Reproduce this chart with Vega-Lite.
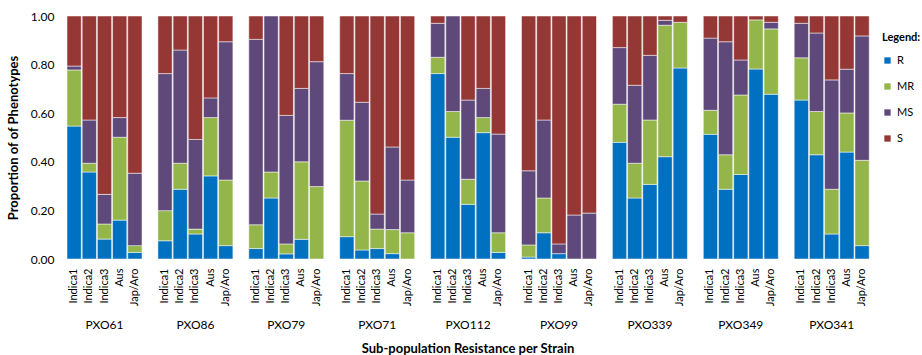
{
  "$schema": "https://vega.github.io/schema/vega-lite/v6.json",
  "padding": {"left": 7, "top": 10, "right": 40, "bottom": 0},
  "background": "white",
  "data": {"values": [
    {"strain": "PXO61", "sub": "Indica1", "R": 0.547, "MR": 0.231, "MS": 0.016, "S": 0.206},
    {"strain": "PXO61", "sub": "Indica2", "R": 0.358, "MR": 0.036, "MS": 0.178, "S": 0.428},
    {"strain": "PXO61", "sub": "Indica3", "R": 0.082, "MR": 0.062, "MS": 0.122, "S": 0.734},
    {"strain": "PXO61", "sub": "Aus", "R": 0.160, "MR": 0.341, "MS": 0.081, "S": 0.418},
    {"strain": "PXO61", "sub": "Jap/Aro", "R": 0.027, "MR": 0.028, "MS": 0.298, "S": 0.647},
    {"strain": "PXO86", "sub": "Indica1", "R": 0.075, "MR": 0.124, "MS": 0.564, "S": 0.237},
    {"strain": "PXO86", "sub": "Indica2", "R": 0.287, "MR": 0.107, "MS": 0.466, "S": 0.140},
    {"strain": "PXO86", "sub": "Indica3", "R": 0.103, "MR": 0.020, "MS": 0.369, "S": 0.508},
    {"strain": "PXO86", "sub": "Aus", "R": 0.342, "MR": 0.240, "MS": 0.081, "S": 0.337},
    {"strain": "PXO86", "sub": "Jap/Aro", "R": 0.055, "MR": 0.270, "MS": 0.569, "S": 0.106},
    {"strain": "PXO79", "sub": "Indica1", "R": 0.043, "MR": 0.098, "MS": 0.763, "S": 0.096},
    {"strain": "PXO79", "sub": "Indica2", "R": 0.251, "MR": 0.107, "MS": 0.642, "S": 0},
    {"strain": "PXO79", "sub": "Indica3", "R": 0.021, "MR": 0.041, "MS": 0.529, "S": 0.409},
    {"strain": "PXO79", "sub": "Aus", "R": 0.081, "MR": 0.319, "MS": 0.302, "S": 0.298},
    {"strain": "PXO79", "sub": "Jap/Aro", "R": 0, "MR": 0.298, "MS": 0.514, "S": 0.188},
    {"strain": "PXO71", "sub": "Indica1", "R": 0.092, "MR": 0.479, "MS": 0.192, "S": 0.237},
    {"strain": "PXO71", "sub": "Indica2", "R": 0.037, "MR": 0.284, "MS": 0.324, "S": 0.355},
    {"strain": "PXO71", "sub": "Indica3", "R": 0.043, "MR": 0.080, "MS": 0.062, "S": 0.815},
    {"strain": "PXO71", "sub": "Aus", "R": 0.022, "MR": 0.099, "MS": 0.340, "S": 0.539},
    {"strain": "PXO71", "sub": "Jap/Aro", "R": 0, "MR": 0.108, "MS": 0.217, "S": 0.675},
    {"strain": "PXO112", "sub": "Indica1", "R": 0.763, "MR": 0.067, "MS": 0.140, "S": 0.030},
    {"strain": "PXO112", "sub": "Indica2", "R": 0.501, "MR": 0.106, "MS": 0.393, "S": 0},
    {"strain": "PXO112", "sub": "Indica3", "R": 0.225, "MR": 0.103, "MS": 0.326, "S": 0.346},
    {"strain": "PXO112", "sub": "Aus", "R": 0.520, "MR": 0.062, "MS": 0.120, "S": 0.298},
    {"strain": "PXO112", "sub": "Jap/Aro", "R": 0.027, "MR": 0.081, "MS": 0.406, "S": 0.486},
    {"strain": "PXO99", "sub": "Indica1", "R": 0.008, "MR": 0.050, "MS": 0.305, "S": 0.637},
    {"strain": "PXO99", "sub": "Indica2", "R": 0.108, "MR": 0.143, "MS": 0.321, "S": 0.428},
    {"strain": "PXO99", "sub": "Indica3", "R": 0.022, "MR": 0, "MS": 0.040, "S": 0.938},
    {"strain": "PXO99", "sub": "Aus", "R": 0, "MR": 0, "MS": 0.181, "S": 0.819},
    {"strain": "PXO99", "sub": "Jap/Aro", "R": 0, "MR": 0, "MS": 0.189, "S": 0.811},
    {"strain": "PXO339", "sub": "Indica1", "R": 0.480, "MR": 0.157, "MS": 0.233, "S": 0.130},
    {"strain": "PXO339", "sub": "Indica2", "R": 0.251, "MR": 0.143, "MS": 0.321, "S": 0.285},
    {"strain": "PXO339", "sub": "Indica3", "R": 0.307, "MR": 0.265, "MS": 0.266, "S": 0.162},
    {"strain": "PXO339", "sub": "Aus", "R": 0.421, "MR": 0.541, "MS": 0.020, "S": 0.018},
    {"strain": "PXO339", "sub": "Jap/Aro", "R": 0.786, "MR": 0.188, "MS": 0, "S": 0.026},
    {"strain": "PXO349", "sub": "Indica1", "R": 0.513, "MR": 0.099, "MS": 0.297, "S": 0.091},
    {"strain": "PXO349", "sub": "Indica2", "R": 0.287, "MR": 0.142, "MS": 0.465, "S": 0.106},
    {"strain": "PXO349", "sub": "Indica3", "R": 0.348, "MR": 0.327, "MS": 0.144, "S": 0.181},
    {"strain": "PXO349", "sub": "Aus", "R": 0.782, "MR": 0.202, "MS": 0, "S": 0.016},
    {"strain": "PXO349", "sub": "Jap/Aro", "R": 0.678, "MR": 0.269, "MS": 0.027, "S": 0.026},
    {"strain": "PXO341", "sub": "Indica1", "R": 0.654, "MR": 0.174, "MS": 0.142, "S": 0.030},
    {"strain": "PXO341", "sub": "Indica2", "R": 0.429, "MR": 0.178, "MS": 0.323, "S": 0.070},
    {"strain": "PXO341", "sub": "Indica3", "R": 0.103, "MR": 0.184, "MS": 0.450, "S": 0.263},
    {"strain": "PXO341", "sub": "Aus", "R": 0.440, "MR": 0.161, "MS": 0.180, "S": 0.219},
    {"strain": "PXO341", "sub": "Jap/Aro", "R": 0.055, "MR": 0.351, "MS": 0.512, "S": 0.082}
  ]},
  "transform": [
    {"fold": ["R", "MR", "MS", "S"], "as": ["phenotype", "value"]},
    {"filter": "datum.value > 0"},
    {"calculate": "indexof(['R','MR','MS','S'], datum.phenotype)", "as": "stackOrder"}
  ],
  "facet": {
    "column": {
      "field": "strain",
      "type": "nominal",
      "sort": ["PXO61", "PXO86", "PXO79", "PXO71", "PXO112", "PXO99", "PXO339", "PXO349", "PXO341"],
      "title": "Sub-population Resistance per Strain",
      "header": {
        "labelOrient": "bottom",
        "titleOrient": "bottom",
        "labelFontSize": 12,
        "labelFont": "Lato",
        "labelColor": "#000",
        "labelPadding": 14,
        "titleFont": "Lato",
        "titleFontSize": 13,
        "titleFontWeight": "bold",
        "titleColor": "#000",
        "titlePadding": 2
      }
    }
  },
  "spacing": 13.9,
  "spec": {
    "width": 75,
    "height": 243,
    "mark": {"type": "bar", "stroke": "#ffffff", "strokeWidth": 0.5},
    "encoding": {
      "x": {
        "field": "sub",
        "type": "nominal",
        "sort": ["Indica1", "Indica2", "Indica3", "Aus", "Jap/Aro"],
        "scale": {"paddingInner": 0.06, "paddingOuter": 0},
        "axis": {"title": null, "labelAngle": -90, "ticks": false, "domain": false, "labelPadding": 8, "labelFontSize": 11, "labelFont": "Lato", "labelColor": "#000"}
      },
      "y": {
        "field": "value",
        "type": "quantitative",
        "stack": "zero",
        "scale": {"domain": [0, 1]},
        "axis": {
          "title": "Proportion of of Phenotypes",
          "values": [0, 0.2, 0.4, 0.6, 0.8, 1.0],
          "format": ".2f",
          "grid": false,
          "ticks": false,
          "domain": false,
          "labelPadding": 12,
          "labelFontSize": 12,
          "labelFont": "Lato",
          "labelColor": "#000",
          "titleFont": "Lato",
          "titleFontSize": 13,
          "titleFontWeight": "bold",
          "titleColor": "#000",
          "titlePadding": 10
        }
      },
      "color": {
        "field": "phenotype",
        "type": "nominal",
        "scale": {"domain": ["R", "MR", "MS", "S"], "range": ["#0070C0", "#93B54A", "#5F497A", "#953735"]},
        "legend": {
          "title": "Legend:",
          "orient": "none",
          "legendX": 815,
          "legendY": 16,
          "symbolType": "square",
          "symbolSize": 40,
          "symbolStrokeWidth": 0,
          "rowPadding": 14,
          "titlePadding": 12,
          "titleFont": "Lato",
          "titleFontSize": 11,
          "titleFontWeight": "bold",
          "titleColor": "#000",
          "labelFont": "Lato",
          "labelFontSize": 11,
          "labelColor": "#000"
        }
      },
      "order": {"field": "stackOrder", "type": "quantitative", "sort": "ascending"}
    }
  },
  "config": {"view": {"stroke": null}}
}
